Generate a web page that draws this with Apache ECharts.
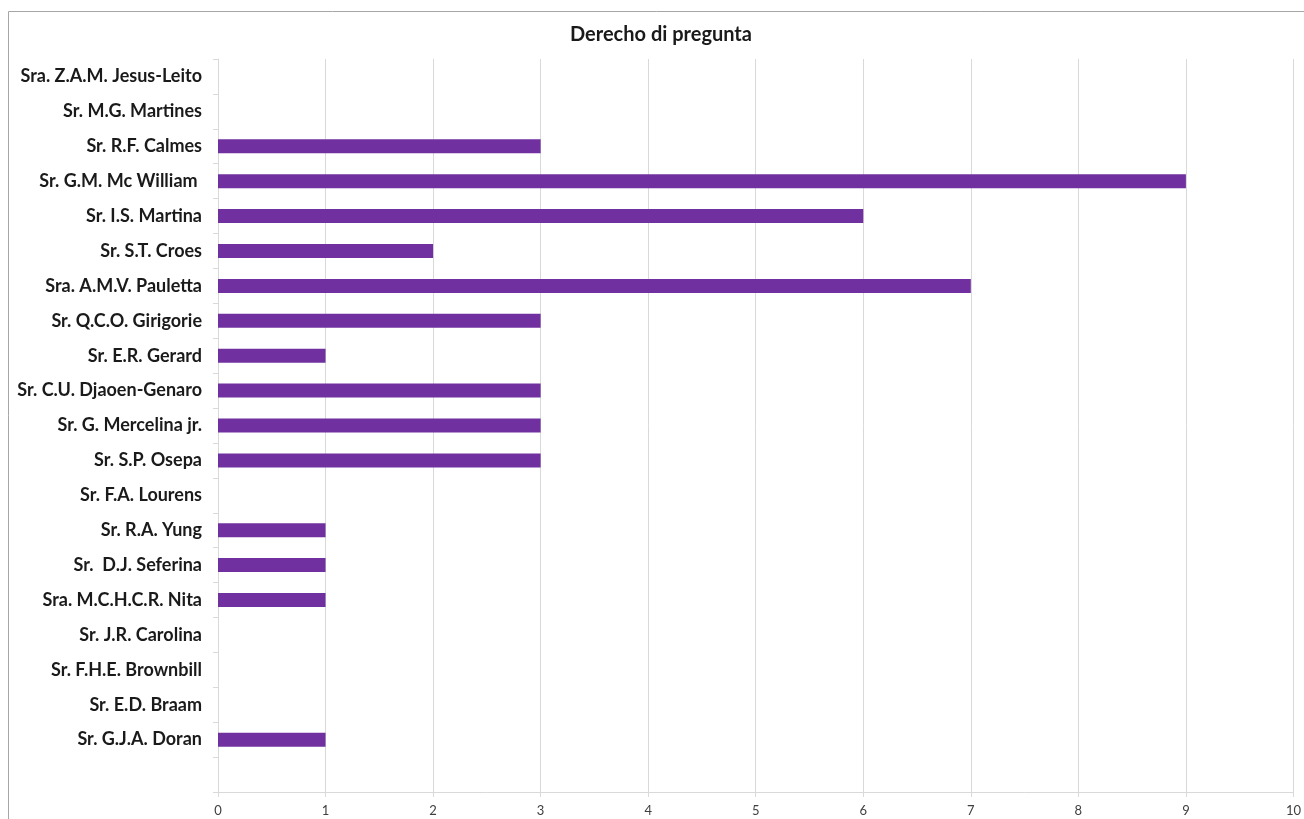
<!DOCTYPE html>
<html>
<head>
<meta charset="utf-8">
<script src="https://cdn.jsdelivr.net/npm/echarts@6/dist/echarts.min.js"></script>
<style>
html,body{margin:0;padding:0;background:#fff;}
#c{width:1304px;height:819px;}
</style>
</head>
<body>
<div id="c"></div>
<script>
const title = "Derecho di pregunta";
// categories listed bottom to top (ECharts category y-axis starts at bottom)
const categories = [
  "",
  "Sr. G.J.A. Doran",
  "Sr. E.D. Braam",
  "Sr. F.H.E. Brownbill",
  "Sr. J.R. Carolina",
  "Sra. M.C.H.C.R. Nita",
  "Sr.  D.J. Seferina",
  "Sr. R.A. Yung",
  "Sr. F.A. Lourens",
  "Sr. S.P. Osepa",
  "Sr. G. Mercelina jr.",
  "Sr. C.U. Djaoen-Genaro",
  "Sr. E.R. Gerard",
  "Sr. Q.C.O. Girigorie",
  "Sra. A.M.V. Pauletta",
  "Sr. S.T. Croes",
  "Sr. I.S. Martina",
  "Sr. G.M. Mc William ",
  "Sr. R.F. Calmes",
  "Sr. M.G. Martines",
  "Sra. Z.A.M. Jesus-Leito"
];
const values = [null, 1, 0, 0, 0, 1, 1, 1, 0, 3, 3, 3, 1, 3, 7, 2, 6, 9, 3, 0, 0];
const xTicks = { min: 0, max: 10, interval: 1 };

const chart = echarts.init(document.getElementById('c'), null, {renderer: 'canvas'});
chart.setOption({
  animation: false,
  backgroundColor: '#ffffff',
  graphic: [{
    type: 'rect',
    shape: { x: 8.5, y: 11.5, width: 1400, height: 900 },
    style: { fill: 'none', stroke: '#a6a6a6', lineWidth: 1 },
    silent: true, z: 100
  }],
  title: {
    text: title,
    left: 565,
    top: 20,
    textStyle: { fontFamily: 'Lato', fontWeight: 'bold', fontSize: 20, color: '#1a1a1a' }
  },
  grid: { left: 218, right: 10, top: 59, bottom: 27, containLabel: false },
  xAxis: {
    type: 'value',
    min: xTicks.min, max: xTicks.max, interval: xTicks.interval,
    axisLine: { show: true, lineStyle: { color: '#d9d9d9', width: 1 } },
    axisTick: { show: true, length: 5, lineStyle: { color: '#d9d9d9' } },
    axisLabel: { fontFamily: 'Lato', fontSize: 13, color: '#404040', margin: 12 },
    splitLine: { show: true, lineStyle: { color: '#d9d9d9', width: 1 } }
  },
  yAxis: {
    type: 'category',
    data: categories,
    axisLine: { show: true, lineStyle: { color: '#d9d9d9', width: 1 } },
    axisTick: { show: true, length: 5, lineStyle: { color: '#d9d9d9' } },
    axisLabel: { fontFamily: 'Lato', fontWeight: 'bold', fontSize: 18, color: '#1a1a1a', margin: 16 },
    splitLine: { show: false }
  },
  series: [{
    type: 'bar',
    data: values,
    barWidth: 14,
    itemStyle: { color: '#7030a0' }
  }]
});
</script>
</body>
</html>
